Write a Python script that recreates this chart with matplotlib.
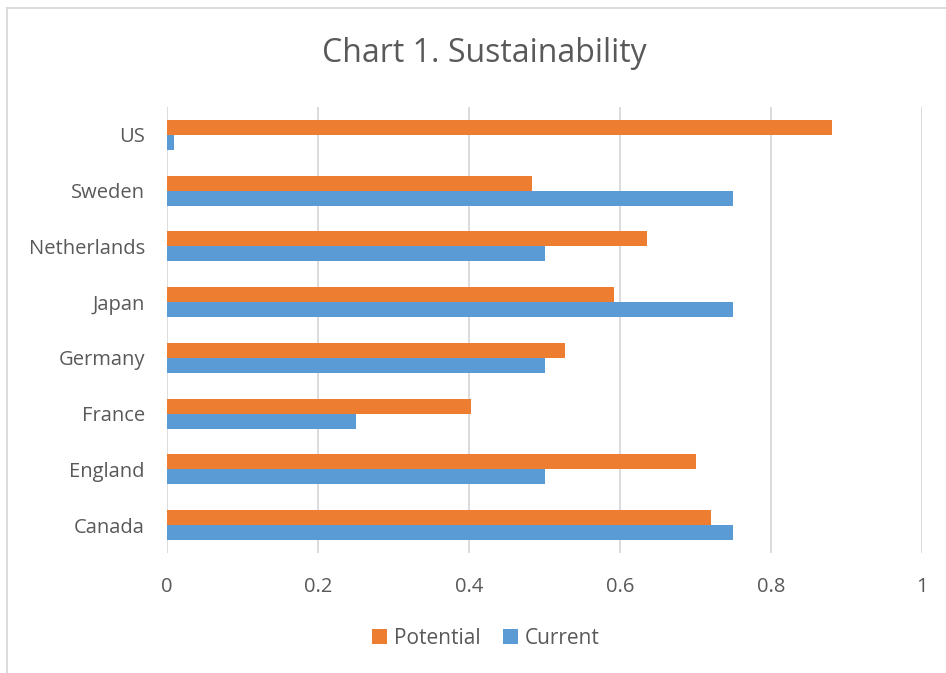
import matplotlib
matplotlib.use("Agg")
import matplotlib.pyplot as plt
import numpy as np
from matplotlib.lines import Line2D

categories = ["Canada", "England", "France", "Germany", "Japan", "Netherlands", "Sweden", "US"]
potential = [0.72, 0.70, 0.403, 0.527, 0.592, 0.636, 0.483, 0.881]
current = [0.75, 0.50, 0.25, 0.50, 0.75, 0.50, 0.75, 0.009]
xticks = [0, 0.2, 0.4, 0.6, 0.8, 1]
xtick_labels = ["0", "0.2", "0.4", "0.6", "0.8", "1"]

plt.rcParams['font.family'] = ['Open Sans', 'DejaVu Sans']
TXT = "#595959"

fig = plt.figure(figsize=(9.46, 6.73), dpi=100)
ax = fig.add_axes([167/946, 1-553/673, (922-167)/946, (553-107)/673])

y = np.arange(len(categories))
h = 0.27
ax.barh(y + h/2, potential, height=h, color="#ED7D31", label="Potential", zorder=3)
ax.barh(y - h/2, current, height=h, color="#5B9BD5", label="Current", zorder=3)

ax.set_xlim(0, 1)
ax.set_ylim(-0.5, len(categories) - 0.5)
ax.set_xticks(xticks)
ax.set_xticklabels(xtick_labels)
ax.set_yticks(y)
ax.set_yticklabels(categories)
ax.tick_params(axis='both', length=0, labelsize=14.5, colors=TXT)
ax.tick_params(axis='x', pad=17)
ax.tick_params(axis='y', pad=16)
ax.xaxis.grid(True, color="#D9D9D9", linewidth=1.3, zorder=0)
for s in ax.spines.values():
    s.set_visible(False)

fig.text(484/946, 1-54/673, "Chart 1. Sustainability", ha="center", va="center",
         fontsize=23, color=TXT)

handles, labels = ax.get_legend_handles_labels()
fig.legend(handles, labels, loc="center", bbox_to_anchor=(486/946, 1-638/673),
           ncol=2, frameon=False, fontsize=15, labelcolor=TXT,
           handlelength=0.7, handleheight=0.7, handletextpad=0.35, columnspacing=1.1)

fig.add_artist(Line2D([7/946, 1], [1-8/673, 1-8/673], transform=fig.transFigure,
                      color="#D9D9D9", linewidth=1.3))
fig.add_artist(Line2D([7/946, 7/946], [0, 1-8/673], transform=fig.transFigure,
                      color="#D9D9D9", linewidth=1.3))

fig.savefig("out.png", dpi=100)
